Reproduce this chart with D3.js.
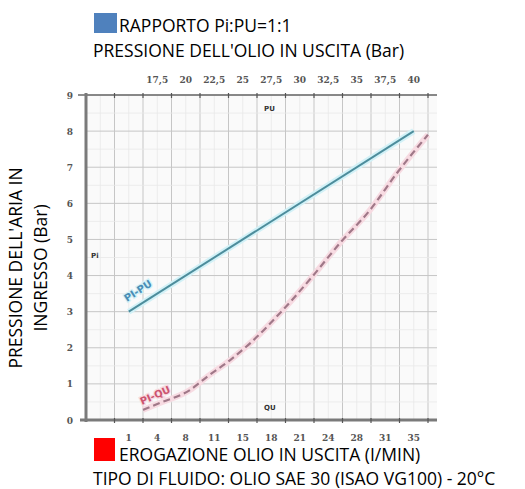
<!DOCTYPE html>
<html><head><meta charset="utf-8">
<script src="https://cdn.jsdelivr.net/npm/d3@7"></script>
<style>body{margin:0;background:#fff}svg{display:block}</style>
</head><body>
<svg id="c" width="525" height="489"></svg>
<script>
// ---- data ----
const yTicks = [0,1,2,3,4,5,6,7,8,9];
const bottomLabels = ["1","4","8","11","15","18","21","24","28","31","35"];
const topLabels = ["17,5","20","22,5","25","27,5","30","32,5","35","37,5","40"];
// Pi-PU: outlet oil pressure (bar, top axis) vs inlet air pressure
const puValues = [15, 40];
const piPU = [3.0, 8.0];
// Pi-QU: outlet flow (l/min, bottom axis) vs inlet air pressure
const quValues = [2.7, 4.7, 8.3, 10.3, 13.1, 15.5, 19.4, 23.0, 26.2, 29.8, 33.0, 36.7];
const piQU = [0.28, 0.47, 0.83, 1.19, 1.66, 2.13, 3.05, 4.0, 4.9, 5.82, 6.84, 7.9];

const svg = d3.select("#c");
const L = 86, R = 428, T = 95, B = 420, RE = 437;
const nCells = 12;

const y = d3.scaleLinear().domain([0, 9]).range([B, T]);
const cellScale = d3.scaleLinear().domain([0, nCells]).range([L, R]);
// bottom: flow, 1 at cell 1.5, 35 at cell 11.5
const xQ = d3.scaleLinear().domain([1, 35]).range([cellScale(1.5), cellScale(11.5)]);
// top: pressure, 17.5 at cell 2.5, 40 at cell 11.5
const xP = d3.scaleLinear().domain([17.5, 40]).range([cellScale(2.5), cellScale(11.5)]);
const bandB = d3.scaleBand().domain(d3.range(nCells)).range([L, R]);

const g = svg.append("g");
g.append("rect").attr("x", L).attr("y", T).attr("width", RE - L).attr("height", B - T).attr("fill", "#fafafa");
for (let i = 0; i < nCells * 2; i++) {
  g.append("line").attr("x1", cellScale(i / 2)).attr("x2", cellScale(i / 2)).attr("y1", T).attr("y2", B)
    .attr("stroke", i % 2 ? "#e8e8e8" : "#c6c6c6").attr("stroke-width", i % 2 ? 0.8 : 1);
}
g.append("line").attr("x1", R).attr("x2", R).attr("y1", T).attr("y2", B).attr("stroke", "#c6c6c6");
for (let v = 0; v <= 18; v++) {
  const val = v / 2;
  g.append("line").attr("x1", L).attr("x2", RE).attr("y1", y(val)).attr("y2", y(val))
    .attr("stroke", v % 2 ? "#e8e8e8" : "#c6c6c6").attr("stroke-width", v % 2 ? 0.8 : 1);
}
// top axis
g.append("line").attr("x1", 78).attr("x2", RE).attr("y1", T).attr("y2", T).attr("stroke", "#6a6a6a").attr("stroke-width", 1.6);
for (let i = 1; i <= nCells; i++) {
  g.append("line").attr("x1", cellScale(i)).attr("x2", cellScale(i)).attr("y1", T - 2).attr("y2", T + 3).attr("stroke", "#555").attr("stroke-width", 1.2);
}
// left & bottom axes
g.append("line").attr("x1", L).attr("x2", L).attr("y1", T - 2).attr("y2", B + 2).attr("stroke", "#7a7a7a").attr("stroke-width", 3);
g.append("line").attr("x1", L - 6).attr("x2", RE).attr("y1", B).attr("y2", B).attr("stroke", "#7a7a7a").attr("stroke-width", 3);
for (let i = 1; i <= nCells; i++) {
  g.append("line").attr("x1", cellScale(i)).attr("x2", cellScale(i)).attr("y1", B - 2).attr("y2", B + 3).attr("stroke", "#555").attr("stroke-width", 1.2);
}

const tickFont = "'DejaVu Serif', serif";
g.selectAll(".yt").data(yTicks).join("text").attr("x", 70).attr("y", d => y(d) + 3.5)
  .attr("text-anchor", "middle").attr("font-family", tickFont).attr("font-weight", "bold")
  .attr("font-size", 9).attr("fill", "#555").text(d => d);
g.selectAll(".bt").data(bottomLabels).join("text").attr("x", (d, i) => bandB(i + 1) + bandB.bandwidth() / 2)
  .attr("y", 441).attr("text-anchor", "middle").attr("font-family", tickFont).attr("font-weight", "bold")
  .attr("font-size", 9).attr("fill", "#555").text(d => d);
g.selectAll(".tt").data(topLabels).join("text").attr("x", (d, i) => bandB(i + 2) + bandB.bandwidth() / 2)
  .attr("y", 83).attr("text-anchor", "middle").attr("font-family", tickFont).attr("font-weight", "bold")
  .attr("font-size", 9).attr("fill", "#555").text(d => d);

// Pi-PU line
const puPts = puValues.map((v, i) => [xP(v), y(piPU[i])]);
const line = d3.line();
g.append("path").attr("d", line(puPts)).attr("stroke", "#d2f1f7").attr("stroke-width", 6).attr("fill", "none");
g.append("path").attr("d", line(puPts)).attr("stroke", "#4d8d9c").attr("stroke-width", 2).attr("fill", "none");

// Pi-QU dashed
const quPts = quValues.map((v, i) => [xQ(v), y(piQU[i])]);
const curve = d3.line().curve(d3.curveMonotoneX);
g.append("path").attr("d", curve(quPts)).attr("stroke", "#f7dbe2").attr("stroke-width", 6).attr("fill", "none");
g.append("path").attr("d", curve(quPts)).attr("stroke", "#a07888").attr("stroke-width", 2.2)
  .attr("stroke-dasharray", "7,4").attr("fill", "none");

// in-plot labels
const lab = "'DejaVu Sans', sans-serif";
g.append("text").attr("transform", "translate(127,302) rotate(-33)").attr("font-family", lab).attr("font-size", 10)
  .attr("font-weight", "bold")
  .attr("fill", "#4a8db5").attr("stroke", "#d2f1f7").attr("stroke-width", 2.5).attr("paint-order", "stroke").text("PI-PU");
g.append("text").attr("transform", "translate(142,405) rotate(-24)").attr("font-family", lab).attr("font-size", 10)
  .attr("font-weight", "bold")
  .attr("fill", "#cc5470").attr("stroke", "#f7dbe2").attr("stroke-width", 2.5).attr("paint-order", "stroke").text("PI-QU");
g.append("text").attr("x", 264).attr("y", 111).attr("font-family", lab).attr("font-weight", "bold").attr("font-size", 7).attr("fill", "#333").text("PU");
g.append("text").attr("x", 264).attr("y", 410).attr("font-family", lab).attr("font-weight", "bold").attr("font-size", 7).attr("fill", "#333").text("QU");
g.append("text").attr("x", 91).attr("y", 258).attr("font-family", lab).attr("font-weight", "bold").attr("font-size", 7).attr("fill", "#333").text("Pi");

// outer texts
const tf = "'Open Sans', sans-serif";
const fs = 17.5;
svg.append("rect").attr("x", 94).attr("y", 13).attr("width", 23).attr("height", 20).attr("fill", "#4f81bd");
svg.append("text").attr("x", 119).attr("y", 32).attr("font-family", tf).attr("font-size", fs).attr("fill", "#000").text("RAPPORTO Pi:PU=1:1");
svg.append("text").attr("x", 93).attr("y", 57).attr("font-family", tf).attr("font-size", fs).attr("fill", "#000").text("PRESSIONE DELL'OLIO IN USCITA (Bar)");
svg.append("rect").attr("x", 94).attr("y", 438).attr("width", 21).attr("height", 23).attr("fill", "#ff0000");
svg.append("text").attr("x", 119).attr("y", 461).attr("font-family", tf).attr("font-size", fs).attr("fill", "#000").text("EROGAZIONE OLIO IN USCITA (I/MIN)");
svg.append("text").attr("x", 93).attr("y", 485).attr("font-family", tf).attr("font-size", fs).attr("fill", "#000").text("TIPO DI FLUIDO: OLIO SAE 30 (ISAO VG100) - 20°C");
svg.append("text").attr("transform", "translate(22,268) rotate(-90)").attr("text-anchor", "middle").attr("font-family", tf).attr("font-size", fs).attr("fill", "#000").text("PRESSIONE DELL'ARIA IN");
svg.append("text").attr("transform", "translate(47,268) rotate(-90)").attr("text-anchor", "middle").attr("font-family", tf).attr("font-size", fs).attr("fill", "#000").text("INGRESSO (Bar)");
</script>
</body></html>
